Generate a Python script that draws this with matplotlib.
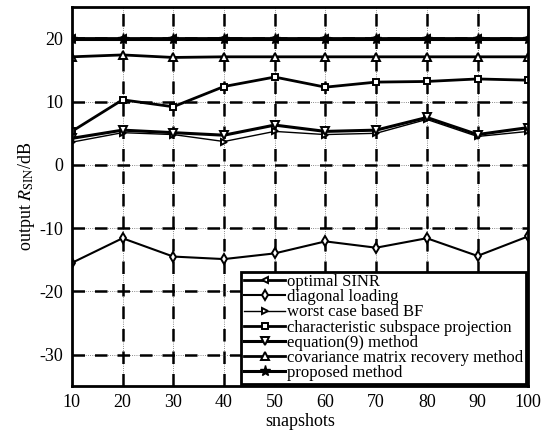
import matplotlib
matplotlib.use('Agg')
import matplotlib.pyplot as plt

plt.rcParams['font.family'] = ['Liberation Serif', 'DejaVu Serif']
plt.rcParams['mathtext.fontset'] = 'stix'
plt.rcParams['axes.unicode_minus'] = False

# 数据
snapshots = [10, 20, 30, 40, 50, 60, 70, 80, 90, 100]
optimal = [20.0, 20.0, 20.0, 20.0, 20.0, 20.0, 20.0, 20.0, 20.0, 20.0]
diag_loading = [-15.5, -11.6, -14.5, -14.9, -14.0, -12.1, -13.1, -11.6, -14.4, -11.3]
worst_case = [3.6, 5.1, 4.8, 3.7, 5.3, 4.8, 5.0, 7.2, 4.5, 5.3]
subspace = [5.3, 10.3, 9.2, 12.4, 13.9, 12.3, 13.1, 13.2, 13.6, 13.4]
eq9 = [4.2, 5.5, 5.1, 4.7, 6.3, 5.3, 5.5, 7.5, 4.8, 5.9]
cov_recovery = [17.1, 17.4, 17.0, 17.1, 17.1, 17.1, 17.1, 17.1, 17.1, 17.1]
proposed = [19.9, 19.9, 19.9, 19.9, 19.9, 19.9, 19.9, 19.9, 19.9, 19.9]

fig = plt.figure(figsize=(5.44, 4.30), dpi=100)
ax = fig.add_axes([0.132, 0.102, 0.839, 0.882])

# 网格：细点线 + 粗虚线
ax.set_axisbelow(True)
for v in snapshots[1:-1]:
    ax.axvline(v, color='0.4', lw=0.6, ls=':', zorder=0)
    ax.axvline(v, color='black', lw=1.8, ls=(0, (5, 4)), zorder=0)
for h in [-30, -20, -10, 0, 10, 20]:
    ax.axhline(h, color='0.4', lw=0.6, ls=':', zorder=0)
    ax.axhline(h, color='black', lw=1.8, ls=(0, (5, 4)), zorder=0)

mk = dict(markerfacecolor='white', markeredgecolor='black', markeredgewidth=1.4, color='black')
ax.plot(snapshots, optimal, marker='<', ms=5, lw=2, label='optimal SINR', **mk)
ax.plot(snapshots, diag_loading, marker='d', ms=5, lw=1.5, label='diagonal loading', **mk)
ax.plot(snapshots, worst_case, marker='>', ms=5, lw=1.0, label='worst case based BF', **mk)
ax.plot(snapshots, subspace, marker='s', ms=5, lw=2, label='characteristic subspace projection', **mk)
ax.plot(snapshots, eq9, marker='v', ms=6, lw=2.2, label='equation(9) method', **mk)
ax.plot(snapshots, cov_recovery, marker='^', ms=6, lw=2, label='covariance matrix recovery method', **mk)
ax.plot(snapshots, proposed, marker='*', ms=8, lw=2.2, color='black', markerfacecolor='black',
        markeredgecolor='black', label='proposed method')

ax.set_xlim(10, 100)
ax.set_ylim(-35, 25)
ax.set_xticks(snapshots)
ax.set_yticks([-30, -20, -10, 0, 10, 20])
ax.tick_params(labelsize=13, length=0, pad=6)
for s in ax.spines.values():
    s.set_linewidth(2)

ax.set_xlabel('snapshots', fontsize=13, labelpad=1)
ax.set_ylabel(r'output $R_{\mathrm{SIN}}$/dB', fontsize=13, labelpad=2)

leg = ax.legend(loc='lower right', fontsize=12, frameon=True, fancybox=False,
                edgecolor='black', framealpha=1, borderpad=0.15, labelspacing=-0.05,
                handlelength=2.5, handletextpad=0.1, borderaxespad=0.15)
leg.get_frame().set_linewidth(2)

plt.savefig('out.png', dpi=100)
